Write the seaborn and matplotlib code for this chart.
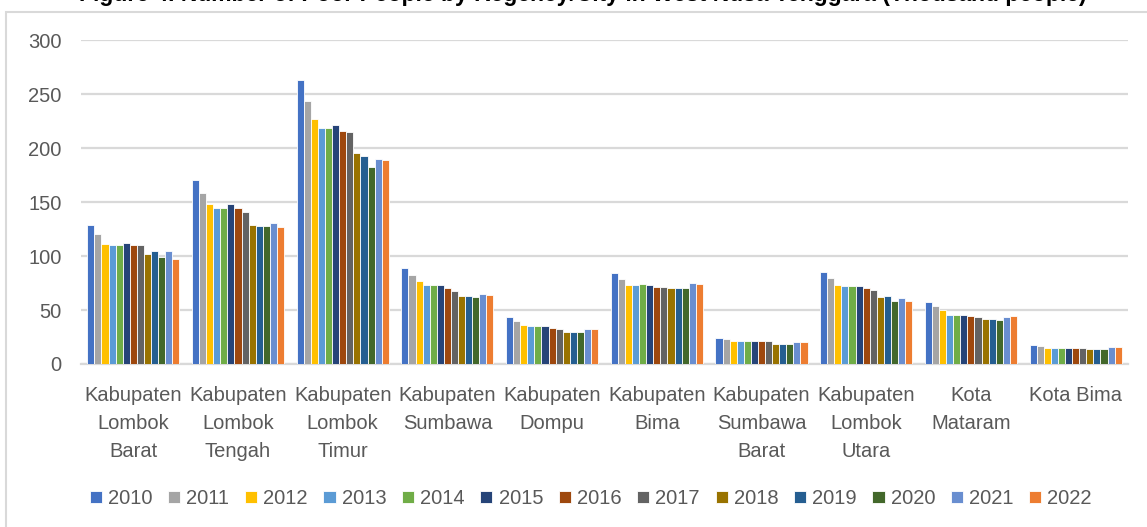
import matplotlib
matplotlib.use("Agg")
import matplotlib.pyplot as plt
import pandas as pd
import seaborn as sns
from matplotlib.patches import Rectangle

# data (thousand people)
regions = ["Kabupaten\nLombok\nBarat", "Kabupaten\nLombok\nTengah", "Kabupaten\nLombok\nTimur",
           "Kabupaten\nSumbawa", "Kabupaten\nDompu", "Kabupaten\nBima",
           "Kabupaten\nSumbawa\nBarat", "Kabupaten\nLombok\nUtara", "Kota\nMataram", "Kota Bima"]
years = [str(y) for y in range(2010, 2023)]

lombok_barat = [129.0, 120.0, 111.4, 109.8, 109.8, 112.3, 109.8, 109.8, 102.0, 104.5, 99.0, 104.5, 97.7]
lombok_tengah = [170.7, 158.7, 147.8, 144.1, 144.1, 147.8, 144.1, 141.0, 129.0, 127.7, 127.7, 130.8, 126.5]
lombok_timur = [263.3, 243.2, 226.5, 219.0, 219.0, 221.3, 215.8, 214.5, 195.6, 192.4, 182.6, 190.0, 189.0]
sumbawa = [89.3, 82.8, 77.3, 72.7, 72.7, 72.7, 70.5, 67.4, 62.8, 62.8, 61.9, 65.0, 63.7]
dompu = [43.2, 39.8, 36.4, 35.5, 35.5, 35.5, 33.0, 32.1, 29.9, 29.9, 29.9, 32.1, 32.1]
bima = [84.0, 78.4, 72.8, 72.8, 73.8, 72.8, 71.6, 71.6, 70.7, 70.7, 70.7, 75.0, 74.1]
sumbawa_barat = [24.4, 23.1, 21.0, 21.0, 21.0, 21.0, 21.0, 21.0, 18.8, 18.8, 18.8, 20.0, 20.0]
lombok_utara = [84.9, 79.3, 72.8, 71.9, 71.9, 71.9, 70.7, 68.5, 61.7, 62.7, 58.6, 60.8, 58.6]
mataram = [57.4, 54.0, 49.7, 45.0, 45.0, 45.0, 44.1, 43.2, 42.0, 42.0, 40.7, 43.2, 44.1]
kota_bima = [17.9, 16.7, 14.5, 14.5, 14.5, 14.5, 14.5, 14.5, 13.6, 13.6, 13.6, 15.4, 15.4]

colors = ["#4472C4", "#A5A5A5", "#FFC000", "#5B9BD5", "#70AD47", "#264478", "#9E480E",
          "#636363", "#997300", "#255E91", "#43682B", "#698ED0", "#ED7D31"]

series = [lombok_barat, lombok_tengah, lombok_timur, sumbawa, dompu, bima,
          sumbawa_barat, lombok_utara, mataram, kota_bima]
rows = []
for reg, vals in zip(regions, series):
    for yr, v in zip(years, vals):
        rows.append({"region": reg, "year": yr, "value": v})
df = pd.DataFrame(rows)

sns.set_style("white")
plt.rcParams["font.family"] = ["Liberation Sans", "DejaVu Sans"]

fig = plt.figure(figsize=(11.47, 5.27), dpi=100)
ax = fig.add_axes([0.0706, 0.3093, 0.9128, 0.6147])

sns.barplot(data=df, x="region", y="value", hue="year", palette=colors,
            width=0.88, edgecolor="white", linewidth=0.6, saturation=1,
            ax=ax, zorder=3)

ax.set_ylim(0, 300)
ax.set_yticks(range(0, 301, 50))
ax.yaxis.grid(True, color="#D9D9D9", linewidth=1.6, zorder=0)
ax.set_xlabel("")
ax.set_ylabel("")
for s in ["top", "right", "left"]:
    ax.spines[s].set_visible(False)
ax.spines["bottom"].set_color("#D9D9D9")
ax.spines["bottom"].set_linewidth(1.6)
ax.tick_params(axis="both", length=0, colors="#595959", labelsize=14.5)
ax.tick_params(axis="y", pad=14)
ax.tick_params(axis="x", pad=16)
for t in ax.get_xticklabels():
    t.set_linespacing(1.6)

ax.legend(loc="upper center", bbox_to_anchor=(0.487, -0.33), ncol=13, frameon=False,
          fontsize=14.5, handlelength=0.6, handleheight=0.6, handletextpad=0.3,
          columnspacing=0.78, labelcolor="#595959")

# chart border (clipped by the image edge like the source)
fig.patches.append(Rectangle((6 / 1147, -0.1), 1.2, 1 - 12 / 527 + 0.1,
                             transform=fig.transFigure, fill=False,
                             edgecolor="#D9D9D9", linewidth=1.5))

# title cut off at the top of the image, as in the source
fig.text(583 / 1147, 1 - 1 / 527,
         "Figure 4. Number of Poor People by Regency/City in West Nusa Tenggara (Thousand people)",
         ha="center", va="baseline", fontsize=16.5, fontweight="bold", color="black")

fig.savefig("out.png", dpi=100)
